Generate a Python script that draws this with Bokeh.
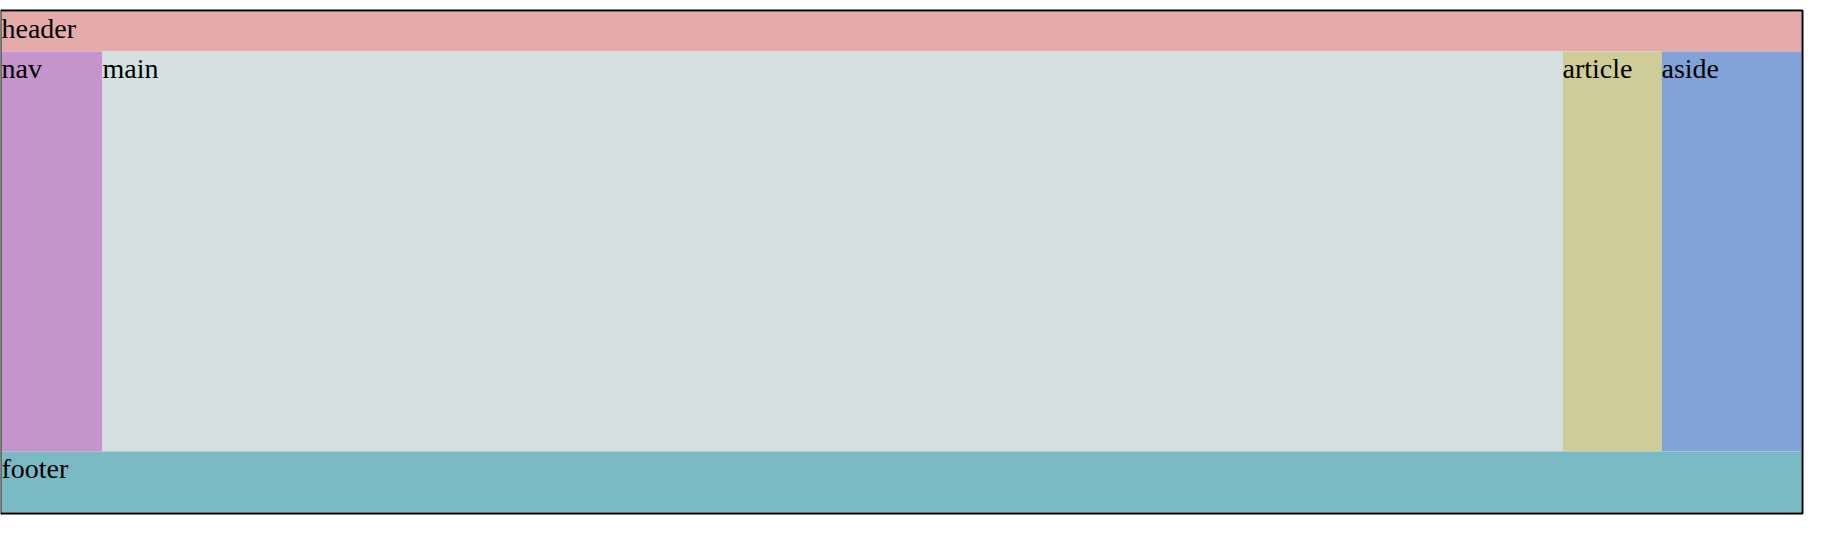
from bokeh.plotting import figure
from bokeh.models import Range1d
from bokeh.core.properties import value
from bokeh.embed import file_html
from bokeh.resources import INLINE

# grid areas and their page-pixel tracks
areas = ["header", "nav", "main", "article", "aside", "footer"]
colors = ["#e5aaaa", "#c594cc", "#d4e0e0", "#cfcd97", "#82a3d7", "#7abac4"]
col_edges = [9, 110, 1570, 1669, 1809]
row_edges = [19, 59, 459, 520]
# (col_start, col_end, row_start, row_end) in track indices
spans = [(0, 4, 0, 1), (0, 1, 1, 2), (1, 2, 1, 2), (2, 3, 1, 2), (3, 4, 1, 2), (0, 4, 2, 3)]

left = [col_edges[s[0]] for s in spans]
right = [col_edges[s[1]] for s in spans]
top = [row_edges[s[2]] for s in spans]
bottom = [row_edges[s[3]] for s in spans]

p = figure(width=1808, height=528, x_range=Range1d(8, 1816), y_range=Range1d(536, 8),
           output_backend="svg", toolbar_location=None, min_border=0)
p.axis.visible = False
p.grid.visible = False
p.outline_line_color = None
p.background_fill_color = "white"

p.quad(left=left, right=right, top=top, bottom=bottom, fill_color=colors, line_color=None)
p.quad(left=[8], right=[1810], top=[18], bottom=[521], fill_color=None,
       line_color="black", line_width=2)
p.text(x=left, y=[t + 1 for t in top], text=areas, text_font=value("Liberation Serif"),
       text_font_size="28px", text_baseline="top", text_color="black")

open("out.html", "w").write(file_html(p, INLINE))
